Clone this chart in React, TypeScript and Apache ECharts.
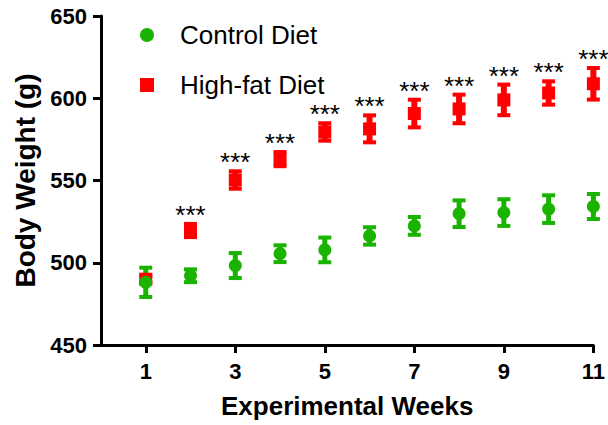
import React, { useEffect, useRef } from "react";
import * as echarts from "echarts";

const weeks = [1, 2, 3, 4, 5, 6, 7, 8, 9, 10, 11];
const controlMean = [488.1, 492.1, 498.3, 505.5, 507.8, 516.3, 522.4, 529.8, 530.5, 532.6, 534.2];
const controlSem = [8.9, 3.9, 7.6, 5.1, 7.5, 5.3, 5.4, 8.1, 8.1, 8.4, 7.6];
const hfdMean = [490, 519.6, 550.3, 563, 579.5, 581.4, 590.7, 593.5, 599, 603.2, 608.8];
const hfdSem = [2, 4, 5.3, 4.3, 5.3, 8.2, 8.4, 8.7, 9.3, 7.1, 9.6];
const sigLabels = ["", "***", "***", "***", "***", "***", "***", "***", "***", "***", "***"];
const xTickValues = [1, 3, 5, 7, 9, 11];
const yTicks = { min: 450, max: 650, interval: 50 };

const GREEN = "#19B300";
const RED = "#FF0000";
const FONT = "'Liberation Sans', Arial, Helvetica, sans-serif";

function makeErrRender(color: string, stem: number, labels: string[] | null) {
  return (params: any, api: any) => {
    const x = api.value(0);
    const m = api.value(1);
    const e = api.value(2);
    const top = api.coord([x, m + e]);
    const bot = api.coord([x, m - e]);
    const c = api.coord([x, m]);
    const children: any[] = [
      { type: "rect", shape: { x: top[0] - stem / 2, y: top[1], width: stem, height: bot[1] - top[1] }, style: { fill: color } },
      { type: "rect", shape: { x: top[0] - 6.5, y: top[1] - 2, width: 13, height: 4 }, style: { fill: color } },
      { type: "rect", shape: { x: bot[0] - 6.5, y: bot[1] - 2, width: 13, height: 4 }, style: { fill: color } },
    ];
    if (labels && labels[params.dataIndex]) {
      const anchor = Math.min(top[1] - 2, c[1] - 6.5);
      children.push({
        type: "text",
        style: {
          text: labels[params.dataIndex],
          x: c[0],
          y: anchor - 7,
          fill: "#000",
          fontSize: 26,
          fontFamily: FONT,
          align: "center",
          verticalAlign: "middle",
        },
      });
    }
    return { type: "group", children };
  };
}

export default function App() {
  const ref = useRef<HTMLDivElement>(null);
  useEffect(() => {
    document.body.style.margin = "0";
    const chart = echarts.init(ref.current!, null, { renderer: "svg" });
    const axisText = { fontSize: 22, fontWeight: "bold" as const, color: "#000", fontFamily: FONT };
    chart.setOption({
      animation: false,
      backgroundColor: "#fff",
      textStyle: { fontFamily: FONT },
      grid: { left: 101, right: 13, top: 16, bottom: 80 },
      legend: {
        orient: "vertical",
        left: 135,
        top: 17,
        itemWidth: 14,
        itemHeight: 14,
        itemGap: 24,
        data: ["Control Diet", "High-fat Diet"],
        textStyle: { fontSize: 26, color: "#000", fontFamily: FONT, lineHeight: 26, padding: [0, 0, 0, 21] },
      },
      xAxis: {
        type: "value",
        min: 0,
        max: 11,
        name: "Experimental Weeks",
        nameLocation: "middle",
        nameGap: 48,
        nameTextStyle: { fontSize: 26, fontWeight: "bold", color: "#000", fontFamily: FONT },
        axisLine: { show: true, lineStyle: { color: "#000", width: 3 } },
        axisTick: { show: true, customValues: xTickValues, length: 8, lineStyle: { color: "#000", width: 3 } },
        axisLabel: { ...axisText, customValues: xTickValues, margin: 15 },
        splitLine: { show: false },
      },
      yAxis: {
        type: "value",
        min: yTicks.min,
        max: yTicks.max,
        interval: yTicks.interval,
        name: "Body Weight (g)",
        nameLocation: "middle",
        nameGap: 60,
        nameTextStyle: { fontSize: 28, fontWeight: "bold", color: "#000", fontFamily: FONT },
        axisLine: { show: true, lineStyle: { color: "#000", width: 3 } },
        axisTick: { show: true, length: 8, lineStyle: { color: "#000", width: 3 } },
        axisLabel: { ...axisText, margin: 14 },
        splitLine: { show: false },
      },
      series: [
        {
          type: "custom",
          renderItem: makeErrRender(RED, 6, sigLabels),
          data: weeks.map((w, i) => [w, hfdMean[i], hfdSem[i]]),
          silent: true,
        },
        {
          name: "High-fat Diet",
          type: "scatter",
          symbol: "rect",
          symbolSize: 13,
          itemStyle: { color: RED, opacity: 1 },
          data: weeks.map((w, i) => [w, hfdMean[i]]),
        },
        {
          type: "custom",
          renderItem: makeErrRender(GREEN, 5, null),
          data: weeks.map((w, i) => [w, controlMean[i], controlSem[i]]),
          silent: true,
        },
        {
          name: "Control Diet",
          type: "scatter",
          symbol: "circle",
          symbolSize: 13,
          itemStyle: { color: GREEN, opacity: 1 },
          data: weeks.map((w, i) => [w, controlMean[i]]),
        },
      ],
    });
    return () => chart.dispose();
  }, []);
  return <div ref={ref} style={{ width: 608, height: 425, position: "absolute", left: 0, top: 0 }} />;
}
